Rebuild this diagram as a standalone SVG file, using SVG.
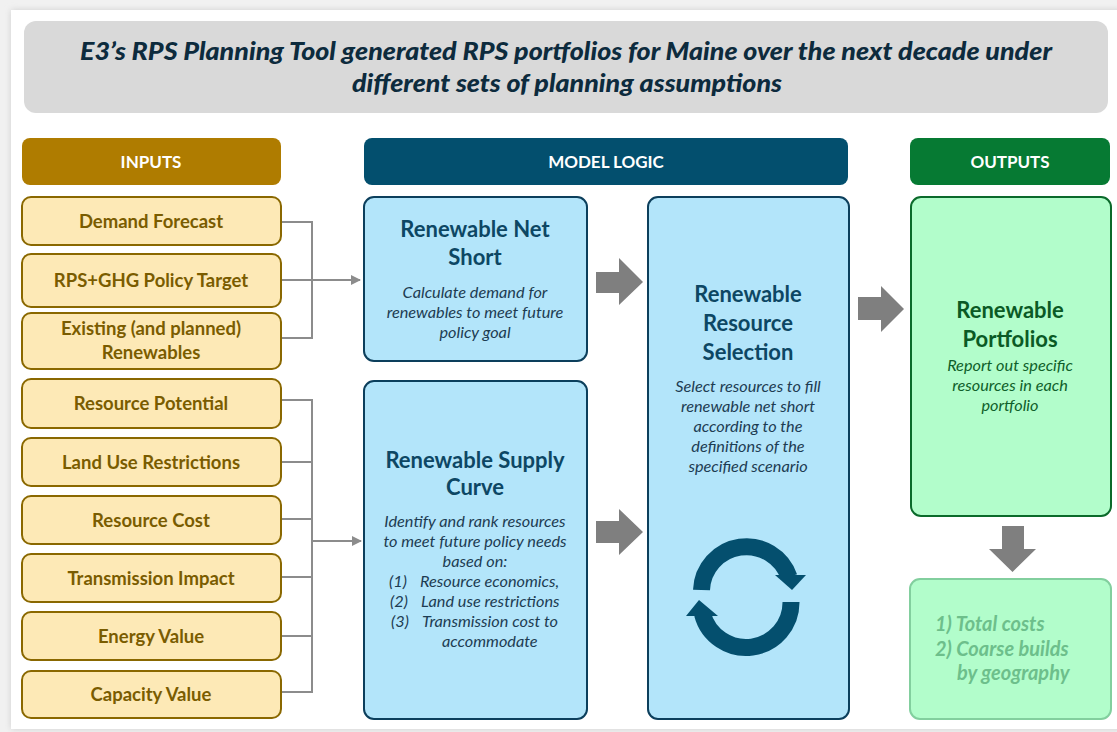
<svg xmlns="http://www.w3.org/2000/svg" width="1117" height="732" viewBox="0 0 1117 732">
<defs>
<style>
.in rect{fill:#fde9b6;stroke:#8a6800;stroke-width:2}
.in text{font-family:Lato,"Liberation Sans",sans-serif;font-weight:700;font-size:18.5px;fill:#7a5c00;text-anchor:middle}
.hd text{font-family:Lato,"Liberation Sans",sans-serif;font-weight:700;font-size:17px;fill:#ffffff;text-anchor:middle}
.bl rect{fill:#b3e5fa;stroke:#0c3f5c;stroke-width:2}
.bt{font-family:Lato,"Liberation Sans",sans-serif;font-weight:700;font-size:22px;fill:#0d4764;text-anchor:middle}
.bi{font-family:Lato,"Liberation Sans",sans-serif;font-style:italic;font-size:16.3px;fill:#1d3c52;text-anchor:middle}
.bs{font-family:Lato,"Liberation Sans",sans-serif;font-style:italic;font-size:16.3px;fill:#1d3c52;text-anchor:start}
.gn rect{fill:#b2fdcb;stroke:#0b6a2b;stroke-width:2}
.gt{font-family:Lato,"Liberation Sans",sans-serif;font-weight:700;font-size:22px;fill:#0a5a25;text-anchor:middle}
.gi{font-family:Lato,"Liberation Sans",sans-serif;font-style:italic;font-size:16.3px;fill:#0f5f2a;text-anchor:middle}
.conn path{fill:none;stroke:#8c8c8c;stroke-width:2}
.big{fill:#7f7f7f}
</style>
<marker id="ah" markerWidth="10" markerHeight="10" refX="9" refY="5" orient="auto" markerUnits="userSpaceOnUse">
<path d="M0,0 L10,5 L0,10 Z" fill="#8c8c8c"/>
</marker>
<filter id="sh" x="-5%" y="-5%" width="110%" height="110%">
<feGaussianBlur stdDeviation="3"/>
</filter>
</defs>
<rect x="0" y="0" width="1117" height="732" fill="#f1f1f1"/>
<rect x="11" y="10" width="1112" height="719" fill="#cfcfcf" filter="url(#sh)"/>
<rect x="11" y="10" width="1112" height="719" fill="#ffffff"/>

<g id="title">
<rect x="24" y="21" width="1084" height="92" rx="12" fill="#d9d9d9"/>
<text x="566" y="60" textLength="972" lengthAdjust="spacingAndGlyphs" font-family="Lato,'Liberation Sans',sans-serif" font-weight="900" font-style="italic" font-size="24" fill="#0d2b3d" text-anchor="middle">E3’s RPS Planning Tool generated RPS portfolios for Maine over the next decade under</text>
<text x="567" y="92" textLength="430" lengthAdjust="spacingAndGlyphs" font-family="Lato,'Liberation Sans',sans-serif" font-weight="900" font-style="italic" font-size="24" fill="#0d2b3d" text-anchor="middle">different sets of planning assumptions</text>
</g>

<g id="hdr-inputs" class="hd"><rect x="22" y="138" width="259" height="47" rx="8" fill="#af7c00"/><text x="151" y="168">INPUTS</text></g>
<g id="hdr-model" class="hd"><rect x="364" y="138" width="484" height="47" rx="8" fill="#034f6e"/><text x="606" y="168">MODEL LOGIC</text></g>
<g id="hdr-outputs" class="hd"><rect x="910" y="138" width="200" height="47" rx="8" fill="#067a33"/><text x="1010" y="168">OUTPUTS</text></g>

<g id="in-demand" class="in"><rect x="22" y="197" width="259" height="48" rx="9"/><text x="151" y="228">Demand Forecast</text></g>
<g id="in-rps" class="in"><rect x="22" y="254" width="259" height="53" rx="9"/><text x="151" y="287">RPS+GHG Policy Target</text></g>
<g id="in-existing" class="in"><rect x="22" y="313" width="259" height="56" rx="9"/><text x="151" y="335">Existing (and planned)</text><text x="151" y="359">Renewables</text></g>
<g id="in-potential" class="in"><rect x="22" y="379" width="259" height="49" rx="9"/><text x="151" y="410">Resource Potential</text></g>
<g id="in-landuse" class="in"><rect x="22" y="438" width="259" height="48" rx="9"/><text x="151" y="469">Land Use Restrictions</text></g>
<g id="in-cost" class="in"><rect x="22" y="496" width="259" height="48" rx="9"/><text x="151" y="527">Resource Cost</text></g>
<g id="in-transmission" class="in"><rect x="22" y="554" width="259" height="48" rx="9"/><text x="151" y="585">Transmission Impact</text></g>
<g id="in-energy" class="in"><rect x="22" y="612" width="259" height="48" rx="9"/><text x="151" y="643">Energy Value</text></g>
<g id="in-capacity" class="in"><rect x="22" y="671" width="259" height="47" rx="9"/><text x="151" y="701">Capacity Value</text></g>

<g id="netshort" class="bl">
<rect x="364" y="197" width="223" height="164" rx="10"/>
<text class="bt" x="475" y="237">Renewable Net</text>
<text class="bt" x="475" y="265">Short</text>
<text class="bi" x="475" y="298">Calculate demand for</text>
<text class="bi" x="475" y="318">renewables to meet future</text>
<text class="bi" x="475" y="338">policy goal</text>
</g>

<g id="supply" class="bl">
<rect x="364" y="381" width="223" height="338" rx="10"/>
<text class="bt" x="475" y="468">Renewable Supply</text>
<text class="bt" x="475" y="495">Curve</text>
<text class="bi" x="475" y="527">Identify and rank resources</text>
<text class="bi" x="475" y="547">to meet future policy needs</text>
<text class="bi" x="475" y="567">based on:</text>
<text class="bs" x="389" y="587">(1)</text><text class="bs" x="420" y="587">Resource economics,</text>
<text class="bs" x="390" y="607">(2)</text><text class="bs" x="421" y="607">Land use restrictions</text>
<text class="bs" x="391" y="627">(3)</text><text class="bs" x="422" y="627">Transmission cost to</text>
<text class="bs" x="442" y="647">accommodate</text>
</g>

<g id="selection" class="bl">
<rect x="648" y="197" width="201" height="522" rx="10"/>
<text class="bt" x="748" y="302">Renewable</text>
<text class="bt" x="748" y="331">Resource</text>
<text class="bt" x="748" y="360">Selection</text>
<text class="bi" x="748" y="392">Select resources to fill</text>
<text class="bi" x="748" y="412">renewable net short</text>
<text class="bi" x="748" y="432">according to the</text>
<text class="bi" x="748" y="452">definitions of the</text>
<text class="bi" x="748" y="472">specified scenario</text>
<g fill="none" stroke="#044f6e" stroke-width="17">
<path d="M701.5,590 A45,45 0 0 1 789,577"/>
<path d="M791,602 A45,45 0 0 1 702.5,614"/>
</g>
<g fill="#044f6e">
<polygon points="775,575 806,575 792,590"/>
<polygon points="686,616 718,616 699,600"/>
</g>
</g>

<g id="portfolios" class="gn">
<rect x="911" y="197" width="200" height="319" rx="10"/>
<text class="gt" x="1010" y="318">Renewable</text>
<text class="gt" x="1010" y="347">Portfolios</text>
<text class="gi" x="1010" y="371">Report out specific</text>
<text class="gi" x="1010" y="391">resources in each</text>
<text class="gi" x="1010" y="411">portfolio</text>
</g>

<g id="results">
<rect x="910" y="579" width="201" height="140" rx="10" fill="#b2fdcb" stroke="#82cf9e" stroke-width="2"/>
<g font-family="Lato,'Liberation Sans',sans-serif" font-weight="700" font-style="italic" font-size="20" fill="#6dbf8b">
<text x="935" y="631">1) Total costs</text>
<text x="935" y="656">2) Coarse builds</text>
<text x="957" y="680">by geography</text>
</g>
</g>

<g id="connectors">
<g class="conn">
<path d="M282,222 H312 V338 H282"/>
<path d="M282,280 H360" marker-end="url(#ah)"/>
<path d="M282,400 H312 V692 H282"/>
<path d="M282,462 H312 M282,519 H312 M282,577 H312 M282,636 H312"/>
<path d="M312,541 H361" marker-end="url(#ah)"/>
</g>
<polygon class="big" points="596,272 619,272 619,258 643,282 619,305 619,293 596,293"/>
<polygon class="big" points="596,521 619,521 619,509 643,532 619,555 619,543 596,543"/>
<polygon class="big" points="858,297 881,297 881,286 904,309 881,332 881,320 858,320"/>
<polygon class="big" points="1002,526 1024,526 1024,549 1036,549 1012.5,572 989,549 1002,549"/>
</g>
</svg>
